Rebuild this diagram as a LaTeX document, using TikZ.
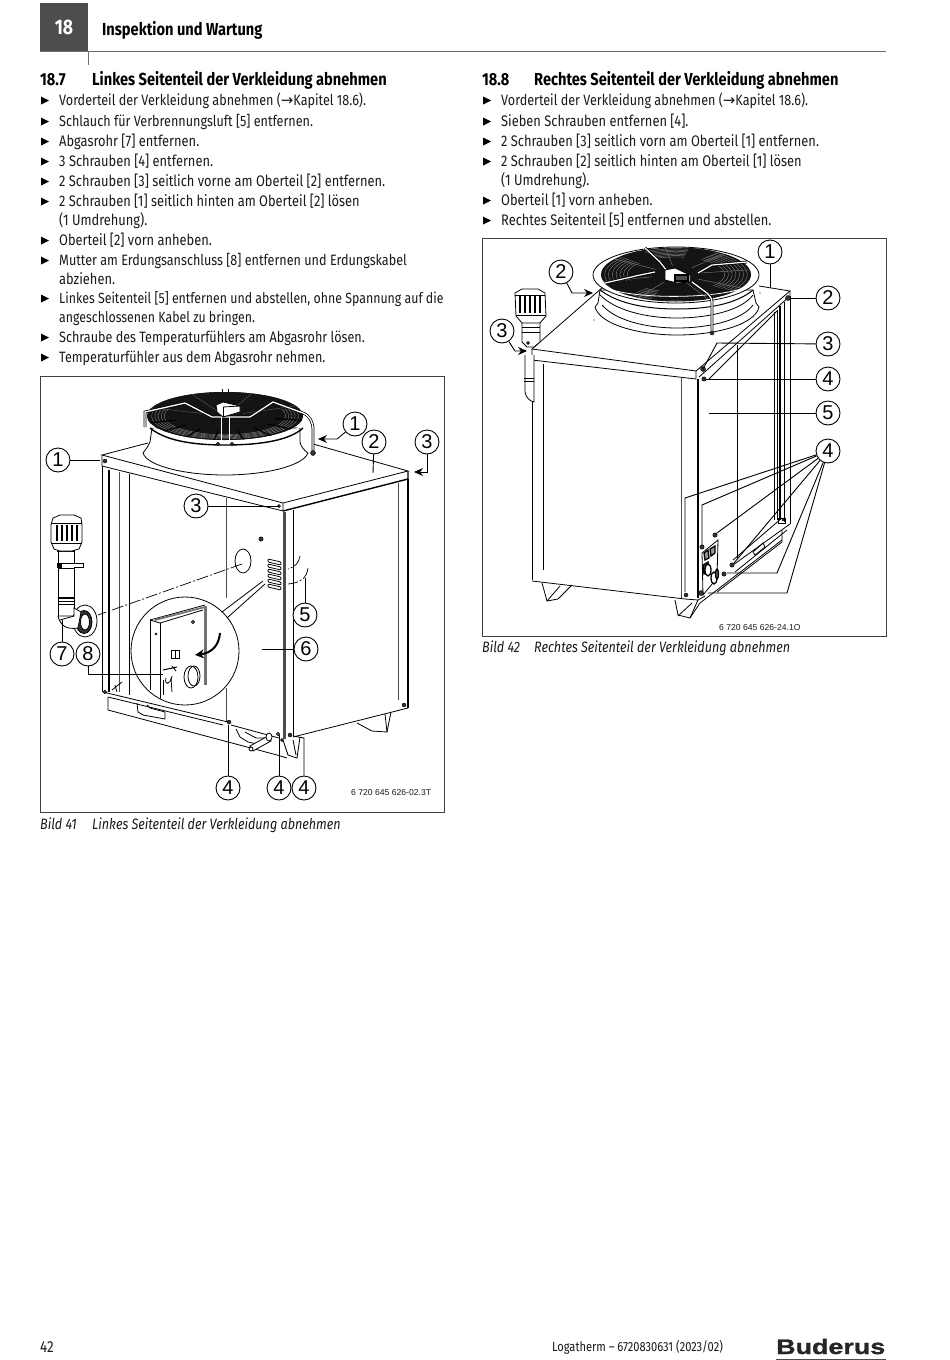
\documentclass[tikz,border=0pt]{standalone}
\usepackage{fontspec}
\setmainfont{Fira Sans}[FakeStretch=0.84]
\newfontfamily\hv{Liberation Sans}
\newfontfamily\djv{DejaVu Sans}
\newfontfamily\logo{Liberation Sans}[FakeStretch=1.28,FakeBold=1.2]
\usetikzlibrary{arrows.meta}
\definecolor{ink}{HTML}{1A1A1A}
\definecolor{hdr}{HTML}{4D4D4D}
\definecolor{rule}{HTML}{6E6E6E}
\tikzset{
 txt/.style={anchor=base west,inner sep=0,text=ink,font=\fontsize{15.3}{16}\selectfont},
 txtm/.style={anchor=base west,inner sep=0,text=ink,font=\fontsize{15}{16}\selectfont},
 txtn/.style={anchor=base west,inner sep=0,text=ink,font=\fontsize{14.7}{16}\selectfont},
 headtxt/.style={anchor=base west,inner sep=0,text=black,font=\fontsize{17.4}{19}\selectfont\bfseries},
 captxt/.style={anchor=base west,inner sep=0,text=ink,font=\fontsize{15}{16}\selectfont\itshape},
 num/.style={circle,draw=black,line width=.9pt,fill=white,minimum size=24pt,inner sep=0,font=\hv\fontsize{20}{20}\selectfont},
 codetxt/.style={anchor=base west,inner sep=0,text=ink,font=\hv\fontsize{8.6}{10}\selectfont},
 ln/.style={line width=.8pt,draw=black},
 thk/.style={line width=1.4pt,draw=black},
 hair/.style={line width=.5pt,draw=black!70},
 ld/.style={line width=.9pt,draw=black},
 arw/.style={ld,-{Stealth[length=9pt,width=8pt]}},
 dd/.style={line width=.7pt,draw=black,dash pattern=on 12pt off 2pt on 2pt off 2pt},
 framebox/.style={line width=1pt,draw=black!75},
 screw/.style={fill=black!80,draw=black,line width=.4pt},
 grate/.style={draw=black!45,line width=.35pt}
}
\newcommand\bul[2]{\fill[black] (#1,#2-8.5) -- (#1+8,#2-4.5) -- (#1,#2-.5) -- cycle;}
\begin{document}
\begin{tikzpicture}[x=1pt,y=-1pt]
\useasboundingbox (0,0) rectangle (950,1360);
\fill[white] (0,0) rectangle (950,1360);
% ---------- header
\fill[hdr] (40,3) rectangle (88,51);
\node[inner sep=0,text=white,font=\fontsize{21}{22}\selectfont\bfseries] (chap) at (64,27) {18};
\draw[rule,line width=.8pt] (40,51) -- (886,51);
\draw[rule,line width=1pt] (88,51) -- (88,65);
\node[headtxt] (htitle) at (102,35) {Inspektion und Wartung};
% ---------- left text
\node[headtxt] (h187a) at (40,85) {18.7};
\node[headtxt] (h187b) at (92,85) {Linkes Seitenteil der Verkleidung abnehmen};
\bul{41}{105}\node[txtm] (la1) at (59,105) {Vorderteil der Verkleidung abnehmen ({\djv →}Kapitel 18.6).};
\bul{41}{126}\node[txtm] (la2) at (59,126) {Schlauch für Verbrennungsluft [5] entfernen.};
\bul{41}{146}\node[txt] (la3) at (59,146) {Abgasrohr [7] entfernen.};
\bul{41}{166}\node[txt] (la4) at (59,166) {3 Schrauben [4] entfernen.};
\bul{41}{186}\node[txt] (la5) at (59,186) {2 Schrauben [3] seitlich vorne am Oberteil [2] entfernen.};
\bul{41}{206}\node[txt] (la6) at (59,206) {2 Schrauben [1] seitlich hinten am Oberteil [2] lösen};
\node[txt] (la6b) at (59,225) {(1 Umdrehung).};
\bul{41}{245}\node[txt] (la7) at (59,245) {Oberteil [2] vorn anheben.};
\bul{41}{265}\node[txtm] (la8) at (59,265) {Mutter am Erdungsanschluss [8] entfernen und Erdungskabel};
\node[txt] (la8b) at (59,284) {abziehen.};
\bul{41}{303}\node[txtn] (la9) at (59,303) {Linkes Seitenteil [5] entfernen und abstellen, ohne Spannung auf die};
\node[txtn] (la9b) at (59,322) {angeschlossenen Kabel zu bringen.};
\bul{41}{342}\node[txtm] (la10) at (59,342) {Schraube des Temperaturfühlers am Abgasrohr lösen.};
\bul{41}{362}\node[txtm] (la11) at (59,362) {Temperaturfühler aus dem Abgasrohr nehmen.};
% ---------- right text
\node[headtxt] (h188a) at (482,85) {18.8};
\node[headtxt] (h188b) at (534,85) {Rechtes Seitenteil der Verkleidung abnehmen};
\bul{483}{105}\node[txtm] (ra1) at (501,105) {Vorderteil der Verkleidung abnehmen ({\djv →}Kapitel 18.6).};
\bul{483}{126}\node[txt] (ra2) at (501,126) {Sieben Schrauben entfernen [4].};
\bul{483}{146}\node[txt] (ra3) at (501,146) {2 Schrauben [3] seitlich vorn am Oberteil [1] entfernen.};
\bul{483}{166}\node[txt] (ra4) at (501,166) {2 Schrauben [2] seitlich hinten am Oberteil [1] lösen};
\node[txt] (ra4b) at (501,185) {(1 Umdrehung).};
\bul{483}{205}\node[txt] (ra5) at (501,205) {Oberteil [1] vorn anheben.};
\bul{483}{225}\node[txt] (ra6) at (501,225) {Rechtes Seitenteil [5] entfernen und abstellen.};
% ---------- frames
\draw[framebox] (40.5,376.5) rectangle (444,812);
\draw[framebox] (482.5,238.5) rectangle (886,636);
\node[captxt] (c41a) at (40,829) {Bild 41};
\node[captxt] (c41b) at (92,829) {Linkes Seitenteil der Verkleidung abnehmen};
\node[captxt] (c42a) at (482,652) {Bild 42};
\node[captxt] (c42b) at (534,652) {Rechtes Seitenteil der Verkleidung abnehmen};
\node[codetxt] (code41) at (351,795) {6 720 645 626-02.3T};
\node[codetxt] (code42) at (719,630) {6 720 645 626-24.1O};
% ================= LEFT UNIT =================
% top panel
\draw[ln] (148,443) -- (102,455) -- (283,503) -- (408,471) -- (313,444);
\draw[ln] (102,455) -- (102,466) -- (283,511) -- (283,503);
\draw[thk] (283,511) -- (408,479) -- (408,471);
% verticals
\draw[ln] (102,466) -- (102,692);
\draw[thk] (109,470) -- (109,692);
\draw[hair] (119,472) -- (119,692);
\draw[ln] (129,474) -- (129,695);
\draw[line width=2.6pt,draw=black!70] (284.5,512) -- (284.5,739);
\draw[ln] (293,510) -- (293,736);
\draw[thk] (408,479) -- (408,708);
\draw[hair] (398,483) -- (398,700);
\draw[hair] (226,498) -- (226,598);
\draw[hair] (226,688) -- (226,722);
% bottom
\draw[ln] (293,737) -- (408,708);
\draw[ln] (357,723) -- (372,731) -- (387,732) -- (391,712);
\draw[ln] (387,732) -- (385,714);
\draw[ln] (103,692) -- (228,722);
\draw[ln] (108,697) -- (223,725);
\draw[ln] (231,725) -- (279,738);
\draw[ln] (108,697) -- (108,710) -- (277,755) -- (287,758);
\draw[ln] (137,703) -- (138,712) -- (143,715) -- (165,719) -- (165,712) -- (150,708) -- (147,705);
\draw[ln] (115,685) -- (117,692);
\draw[ln] (112,690) -- (122,682);
\draw[ln] (236,729) -- (240,737) -- (248,742) -- (262,745);
\draw[ln] (245,732) -- (256,738) -- (268,738);
\draw[ln,fill=white] (250,746) -- (268,736) -- (271,741) -- (253,751) -- cycle;
\draw[ln,fill=white] (269,737) ellipse (3 and 4);
\draw[ln,fill=white] (251,749) circle (2);
% foot front
\draw[ln] (283,740) -- (288,755) -- (297,758) -- (300,737);
\draw[ln] (293,740) -- (296,755);
% fan shroud
\draw[ln,fill=white] (152,428) -- (150,442) .. controls (148,447) and (145,450) .. (143,453) .. controls (147,466) and (185,475) .. (225,475) .. controls (265,475) and (303,466) .. (308,453) .. controls (304,450) and (301,447) .. (300,442) -- (300,428) -- cycle;
\draw[line width=1.4pt] (150,428) .. controls (165,440) and (190,445) .. (225,445) .. controls (262,445) and (290,440) .. (303,428);
% fan
\fill[black!92] (225,416) ellipse (78 and 24);
\begin{scope}
\clip (225,416) ellipse (78 and 24);
\fill[black!92] (147,420) -- (303,420) -- (303,440) -- (147,440) -- cycle;
\foreach \s in {.94,.9,.86,.82,.78}{\draw[grate] (225,416) ellipse ({78*\s} and {24*\s});}
\foreach \a in {10,32,...,170}{\draw[black,line width=1.2pt] ({225+50*cos(\a)},{416+15*sin(\a)}) -- ({225+80*cos(\a)},{416+25*sin(\a)});}
\fill[black!92] (147,392) rectangle (303,409);
\foreach \a in {200,245,290,335}{\draw[draw=black!55,line width=.3pt] ({225+20*cos(\a)},{416+6*sin(\a)}) -- ({225+78*cos(\a)},{416+24*sin(\a)});}
\end{scope}
\draw[white,line width=1.2pt] (150,425) .. controls (165,437) and (190,442) .. (225,442) .. controls (262,442) and (290,437) .. (302,425);
% guard frame
\draw[black,line width=2.8pt] (145,427) -- (145,412) -- (185,403) -- (212,417) -- (250,417) -- (273,402) -- (303,413);
\draw[white,line width=1.3pt] (145,427) -- (145,412) -- (185,403) -- (212,417) -- (250,417) -- (273,402) -- (303,413);
\draw[black,line width=2.8pt] (303,413) .. controls (310,416) and (313,422) .. (313,430) -- (313,451);
\draw[white,line width=1.3pt] (303,413) .. controls (310,416) and (313,422) .. (313,430) -- (313,451);
\draw[screw] (313,453) circle (2.5);
\draw[ln,fill=white] (216,405) -- (223,402) -- (240,406) -- (240,412) -- (223,417) -- (217,412) -- cycle;
\draw[ln] (223,407) -- (240,406);\draw[ln] (223,407) -- (223,417);
\draw[white,line width=.8pt] (221,417) -- (221,443);
\draw[white,line width=.8pt] (229,417) -- (229,443);
\draw[ln] (222,389) -- (222,393);\draw[ln] (228,389) -- (228,393);
\draw[screw] (218,444) circle (1.8);\draw[screw] (232,444) circle (1.8);
% screws
\draw[screw] (105,461) circle (2);
\draw[screw] (279,506) circle (1.5);
\draw[screw] (261,539) circle (2.2);
\draw[screw] (229,722) circle (2);
\draw[ln,fill=white] (278,734) circle (1.5);
\draw[screw] (282,740) circle (1.5);
\draw[screw] (290,735) circle (2);
\draw[screw] (404,705) circle (2);
\draw[screw] (105,692) circle (1.8);
% hole and louvers
\draw[ln] (243,561) ellipse (8 and 12);
\foreach \y in {559,564,...,584}{\draw[ln,rounded corners=1pt] (268,\y) -- (281,\y+3) -- (281,\y+6) -- (268,\y+3) -- cycle;}
\draw[dd] (300,556) .. controls (299,563) and (295,567) .. (288,569);
\draw[dd] (308,568) .. controls (307,578) and (300,583) .. (288,584);
% flue pipe left
\draw[ln,fill=white] (58,549) -- (58,616) -- (74,616) -- (74,549) -- cycle;
\draw[ln] (57,551) -- (75,551);
\draw[line width=1.4pt] (58,598) -- (74,598);\draw[line width=.8pt] (58,601) -- (74,601);
\draw[ln] (58,604) -- (74,604);
\draw[ln] (58,563) -- (74,563);
\draw[ln] (58,568) -- (74,568);
\draw[ln,fill=white] (74,563.5) -- (83,563.5) -- (83,567) -- (74,567);
\fill[black] (57,563) rectangle (62,568);
\draw[ln,fill=white] (54,549) -- (51,542) -- (51,525) -- (53,518) -- (60,515) -- (74,515) -- (81,518) -- (82,525) -- (82,542) -- (79,549) -- (72,551) -- (60,551) -- cycle;
\draw[ln] (51,523) -- (82,523);
\draw[ln] (51,543) -- (82,543);
\foreach \x in {57,62,...,77}{\draw[line width=1.5pt] (\x,525) -- (\x,541);}
\draw[ln,fill=white] (85,621) ellipse (12 and 16);
\draw[ln,fill=black!80] (84,622) ellipse (8 and 11.5);
\draw[ln,fill=white] (85,622) ellipse (4.5 and 8);
\draw[ln,fill=white] (58,616) .. controls (60,625) and (66,630) .. (78,628) -- (81,612) -- (74,608) -- (74,616) -- cycle;
\draw[ln] (60,620) -- (74,616);
% dash-dot axis
\draw[dd] (242,564) -- (98,615);
% lens wedge and lens
\fill[white] (185,651) circle (54);
\draw[ln] (185,651) circle (54);
\fill[white] (222,609) -- (232,621) -- (238,610) -- cycle;
\draw[ln] (263,581) -- (222,612);
\draw[ln] (265,584) -- (227,618);
\begin{scope}
\clip (185,651) circle (53.5);
\draw[ln] (150,620) -- (205,605);
\draw[line width=1.8pt,draw=black!55] (155,620) -- (205,607);
\draw[ln] (160,623) -- (203,610);
\draw[ln] (150,620) -- (160,623);
\draw[ln] (150,620) -- (150,690);
\draw[ln] (160,623) -- (160,700);
\draw[line width=2.2pt,draw=black!55] (205.5,606) -- (205.5,685);
\draw[ln] (193,622) circle (1.5);
\draw[ln] (171,650) rectangle (179,658);
\draw[ln] (175,650) -- (175,658);
\draw[screw] (156,634) circle (1.2);
\draw[ln] (191,677) ellipse (7 and 11);
\draw[ln] (194,676) ellipse (6 and 10);
\draw[line width=1pt] (163,670) -- (177,667);
\draw[ln] (172,666) -- (176,671);
\draw[ln] (166,678) .. controls (164,685) and (170,686) .. (172,676);
\draw[ln] (171,678) -- (172,692);
\draw[ln] (163,680) -- (163,695);
\end{scope}
\draw[line width=2pt,-{Stealth[length=9pt,width=9pt]}] (220,633) .. controls (219,645) and (212,653) .. (195,655);
% leaders and labels left
\node[num] (a1) at (58,460) {1};
\node[num] (b1) at (355,424) {1};
\node[num] (a2) at (374,442) {2};
\node[num] (a3) at (427,442) {3};
\node[num] (b3) at (196,506) {3};
\node[num] (a5) at (305,615) {5};
\node[num] (a6) at (306,649) {6};
\node[num] (a7) at (62,654) {7};
\node[num] (a8) at (88,654) {8};
\node[num] (c4) at (228,788) {4};
\node[num] (d4) at (279,788) {4};
\node[num] (e4) at (304,788) {4};
\draw[ld] (a1) -- (100,460) coordinate (a1e);
\draw[arw] (b1) -- (337,439) coordinate (b1m) -- (318,439);
\draw[ld] (a2) -- (373,473) coordinate (a2e);
\draw[arw] (a3) -- (427,472) coordinate (a3m) -- (414,472);
\draw[ld] (b3) -- (279,506) coordinate (b3e);
\draw[ld] (a5) -- (305,578) coordinate (a5e);
\draw[ld] (a6) -- (262,649) coordinate (a6e);
\draw[ld] (a7) -- (62,620) coordinate (a7e);
\draw[ld] (a8) |- (163,674) coordinate (a8e);
\draw[ld] (c4) -- (228,725) coordinate (c4e);
\draw[ld] (d4) -- (279,735) coordinate (d4e);
\draw[ld] (e4) -- (304,738) coordinate (e4m) -- (293,736);
% ================= RIGHT UNIT =================
% top panel
\draw[ln] (603,287) -- (532,349) -- (696,371) -- (790,291) -- (759,286);
\draw[ln] (532,349) -- (532,360) -- (696,379) -- (696,371);
\draw[ln] (699,377) -- (790,296) -- (790,291);
\draw[ln] (709,379) -- (777,311);
% verticals
\draw[ln] (532,360) -- (532,580);
\draw[ln] (543,364) -- (543,570);
\draw[hair] (681,377) -- (681,598);
\draw[thk] (698,379) -- (698,598);
\draw[ln] (737,345) -- (737,558);
\draw[ln] (774,312) -- (774,520);
\draw[ln] (777,310) -- (777,520);
\draw[thk] (780,306) -- (780,520);
\draw[ln] (784,302) -- (784,522);
\draw[ln] (790,296) -- (790,524);
% bottom
\draw[ln] (532,581) -- (685,599) -- (698,600);
\draw[ln] (542,583) -- (547,601) -- (558,599) -- (572,585);
\draw[ln] (547,601) -- (560,586);
\draw[ln] (675,600) -- (678,615) -- (690,618) -- (698,600);
\draw[ln] (678,616) -- (692,603);
\draw[ln] (690,618) -- (700,603) -- (782,540);
\draw[ln] (698,600) -- (705,596);
\draw[ln] (717,592) -- (782,542) -- (782,530);
\draw[ln] (733,560) -- (782,518);
\draw[ln] (733,565) -- (790,524);
\draw[ln] (735,572) -- (787,530);
\draw[ln] (753,552) -- (763,543) -- (765,547) -- (755,555) -- cycle;
\draw[ln] (778,518) rectangle (785,523);
\draw[screw] (783,520) circle (1.2);
% connector panel
\draw[ln,fill=white] (702,553) -- (718,540) -- (717,578) -- (703,595) -- cycle;
\draw[line width=1.3pt,fill=black!40] (704,553) -- (708,550) -- (709,558) -- (705,560) -- cycle;
\draw[line width=1.3pt,fill=black!40] (710,549) -- (715,546) -- (715,553) -- (711,556) -- cycle;
\draw[line width=1.3pt,fill=black!75] (703,565) -- (708,562) -- (709,570) -- (704,574) -- cycle;
\draw[line width=1.3pt,fill=white] (708,570) ellipse (3 and 6);
\draw[line width=1.3pt,fill=white] (714,578) ellipse (3 and 6);
\draw[line width=1.3pt,fill=black!60] (717,574) ellipse (1.5 and 5);
% fan shroud
\draw[ln,fill=white] (600,290) -- (598,303) -- (595,307) .. controls (600,325) and (640,335) .. (677,335) .. controls (715,335) and (755,325) .. (759,307) -- (756,303) -- (753,290) -- cycle;
\draw[ln] (602,305) .. controls (615,320) and (645,328) .. (677,328) .. controls (710,328) and (742,320) .. (753,305);
\draw[ln] (600,295) .. controls (615,310) and (645,318) .. (677,318) .. controls (710,318) and (742,310) .. (753,295);
\draw[ln,fill=white] (676,275) ellipse (83 and 28);
\draw[line width=1pt] (600,290) .. controls (620,305) and (650,309) .. (677,309) .. controls (705,309) and (735,305) .. (753,290);
\fill[black!92] (676,274.5) ellipse (75 and 27);
\begin{scope}
\clip (676,274.5) ellipse (75 and 27);
\foreach \s in {.95,.9,.85,.8,.75,.7,.65}{\draw[grate] (676,274.5) ellipse ({75*\s} and {27*\s});}
\fill[black!92] (640,248) -- (676,274) -- (600,250) -- cycle;
\fill[black!92] (650,300) -- (676,275) -- (760,300) -- cycle;
\fill[black!92] (690,246) -- (676,274) -- (725,246) -- cycle;
\fill[black!92] (610,304) -- (676,275) -- (590,285) -- cycle;
\foreach \a in {30,65,120,165,215,262,310,350}{\draw[black!50,line width=.4pt] ({676+25*cos(\a)},{274.5+9*sin(\a)}) -- ({676+75*cos(\a)},{274.5+27*sin(\a)});}
\end{scope}
\draw[white,line width=.8pt] (603,286) .. controls (625,300) and (725,300) .. (750,285);
% guard
\draw[black,line width=2.8pt] (645,248) -- (660,262) -- (667,271);
\draw[white,line width=1.2pt] (645,248) -- (660,262) -- (667,271);
\draw[black,line width=2.8pt] (605,283) -- (640,275) -- (655,272);
\draw[white,line width=1.2pt] (605,283) -- (640,275) -- (655,272);
\draw[black,line width=2.8pt] (698,273) -- (712,265) -- (747,262);
\draw[white,line width=1.2pt] (698,273) -- (712,265) -- (747,262);
\draw[black,line width=2.8pt] (692,282) -- (707,293) .. controls (711,297) and (712,299) .. (712,303) -- (712,331);
\draw[white,line width=1.3pt] (692,282) -- (707,293) .. controls (711,297) and (712,299) .. (712,303) -- (712,331);
\draw[ln,fill=white] (665,270) -- (675,268) -- (690,275) -- (690,282) -- (677,283) -- (665,280) -- cycle;
\draw[thk,fill=black!70] (675,275) rectangle (688,281);
\draw[screw] (712,333) circle (2);
% screws
\draw[screw] (788,298) circle (2.5);
\draw[screw] (703,369) circle (2.5);
\draw[screw] (704,379) circle (2.2);
\draw[screw] (715,535) circle (2.2);
\draw[screw] (702,547) circle (2.2);
\draw[screw] (732,565) circle (2.2);
\draw[screw] (724,574) circle (2.2);
\draw[screw] (701,593) circle (2.5);
\draw[screw] (686,595) circle (2);
\fill (594,320) circle (.6);\fill (760,293) circle (.6);
% flue pipe right
\draw[ln,fill=white] (525,355) -- (525,392) .. controls (526,398) and (530,401) .. (534,402) -- (534,355);
\draw[ln] (524,378) -- (534,378);\draw[ln] (524,381) -- (534,381);
\draw[ln,fill=white] (522,320) -- (522,342) -- (527,347) -- (534,347) -- (540,342) -- (540,320) -- cycle;
\draw[ln] (522,327) -- (540,327);\draw[ln] (522,332) -- (540,332);
\draw[ln,fill=white] (516,316) -- (515,293) -- (522,289) -- (538,289) -- (545,293) -- (546,316) -- (540,323) -- (522,323) -- cycle;
\foreach \x in {520,525,...,540}{\draw[thk] (\x,295) -- (\x,313);}
\draw[ln] (515,295) -- (545,295);
\draw[ln] (516,315) -- (546,315);
\draw[screw] (528,343) circle (1.5);
% leaders and labels right
\node[num] (r1) at (770,252) {1};
\node[num] (r2l) at (561,272) {2};
\node[num] (r3l) at (502,331) {3};
\node[num] (r2) at (828,298) {2};
\node[num] (r3) at (828,344) {3};
\node[num] (r4a) at (828,379) {4};
\node[num] (r5) at (828,413) {5};
\node[num] (r4) at (828,451) {4};
\draw[ld] (r1) -- (770,288) coordinate (r1e);
\draw[arw] (r2l) -- (572,293) coordinate (r2m) -- (593,293);
\draw[arw] (r3l) -- (515,351) coordinate (r3m) -- (527,351);
\draw[ld] (r2) -- (790,298) coordinate (r2e);
\draw[ld] (r3) -- (717,343) coordinate (r3m2) -- (703,369);
\draw[ld] (r4a) -- (706,379) coordinate (r4ae);
\draw[ld] (r5) -- (709,413) coordinate (r5e);
\draw[ld] (r4) -- (685,498) coordinate (r4m1) -- (685,592);
\draw[ld] (r4) -- (702,505) coordinate (r4m2) -- (702,545);
\draw[ld] (r4) -- (717,533) coordinate (r4e3);
\draw[ld] (r4) -- (734,563) coordinate (r4e4);
\draw[ld] (r4) -- (777,573) coordinate (r4m5) -- (727,573);
\draw[ld] (r4) -- (787,593) coordinate (r4m6) -- (708,593);
% ---------- footer
\node[anchor=base west,inner sep=0,text=ink,font=\fontsize{16}{17}\selectfont] (pg) at (40,1352) {42};
\node[anchor=base west,inner sep=0,text=ink,font=\fontsize{13.2}{14}\selectfont] (ft) at (552,1351) {Logatherm – 6720830631 (2023/02)};
\node[anchor=base west,inner sep=0,text=black!85,font=\logo\fontsize{21}{22}\selectfont\bfseries] (bd) at (776,1354) {Buderus};
\draw[line width=1pt,black!70] (776,1359) -- (886,1359);
\end{tikzpicture}
\end{document}
